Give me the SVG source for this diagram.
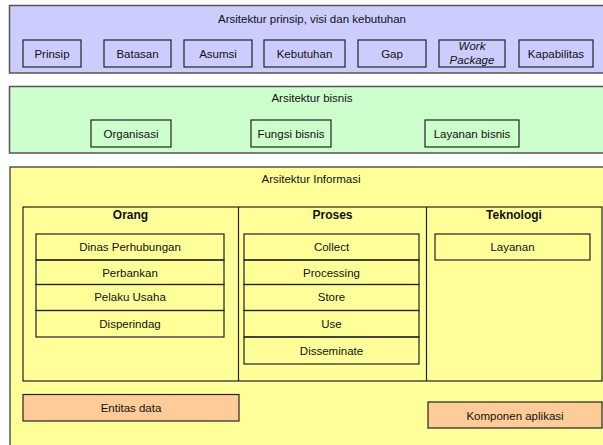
<svg xmlns="http://www.w3.org/2000/svg" width="603" height="445" viewBox="0 0 603 445">
<style>
  text { font-family: "Liberation Sans", Arial, sans-serif; font-size: 11.5px; fill: #111; text-anchor: middle; }
  .hdr { font-weight: bold; font-size: 12px; }
  .it { font-style: italic; }
  .panel { stroke: #555; stroke-width: 1.5; }
  .box { stroke: #222; stroke-width: 1.2; }
  .blue { fill: #CCCCFF; }
  .green { fill: #CCFFCC; }
  .yellow { fill: #FFFF99; }
  .orange { fill: #FFCC99; }
  .none { fill: none; }
</style>
<rect width="603" height="445" fill="#ffffff"/>

<g id="panel-prinsip">
  <rect class="panel blue" x="9.5" y="5.5" width="620" height="67.5"/>
  <text x="312" y="23">Arsitektur prinsip, visi dan kebutuhan</text>
</g>
<g id="prinsip"><rect class="box blue" x="23" y="40" width="58" height="27"/><text x="52" y="57.5">Prinsip</text></g>
<g id="batasan"><rect class="box blue" x="104" y="40" width="67" height="27"/><text x="137.5" y="57.5">Batasan</text></g>
<g id="asumsi"><rect class="box blue" x="184" y="40" width="68" height="27"/><text x="218" y="57.5">Asumsi</text></g>
<g id="kebutuhan"><rect class="box blue" x="264" y="40" width="81" height="27"/><text x="304.5" y="57.5">Kebutuhan</text></g>
<g id="gap"><rect class="box blue" x="358" y="40" width="68" height="27"/><text x="392" y="57.5">Gap</text></g>
<g id="work-package"><rect class="box blue" x="439" y="40" width="66" height="27"/><text class="it" x="472" y="50">Work</text><text class="it" x="472" y="64">Package</text></g>
<g id="kapabilitas"><rect class="box blue" x="519" y="40" width="74" height="27"/><text x="556" y="57.5">Kapabilitas</text></g>

<g id="panel-bisnis">
  <rect class="panel green" x="9.5" y="86.5" width="620" height="66.5"/>
  <text x="312" y="102">Arsitektur bisnis</text>
</g>
<g id="organisasi"><rect class="box green" x="91" y="120" width="80" height="27"/><text x="131" y="137.5">Organisasi</text></g>
<g id="fungsi-bisnis"><rect class="box green" x="251" y="120" width="80" height="27"/><text x="291" y="137.5">Fungsi bisnis</text></g>
<g id="layanan-bisnis"><rect class="box green" x="425" y="120" width="94" height="27"/><text x="472" y="137.5">Layanan bisnis</text></g>

<g id="panel-informasi">
  <rect class="panel yellow" x="10" y="167" width="620" height="300"/>
  <text x="311" y="183">Arsitektur Informasi</text>
</g>
<g id="table">
  <rect class="box none" x="23" y="207" width="579" height="174"/>
  <line class="box" x1="238.5" y1="207" x2="238.5" y2="381"/>
  <line class="box" x1="426.5" y1="207" x2="426.5" y2="381"/>
</g>
<g id="orang"><text class="hdr" x="130.5" y="218.5">Orang</text></g>
<g id="proses"><text class="hdr" x="332.5" y="218.5">Proses</text></g>
<g id="teknologi"><text class="hdr" x="514" y="218.5">Teknologi</text></g>

<g id="dinas-perhubungan"><rect class="box none" x="36" y="234" width="188" height="26"/><text x="130" y="251">Dinas Perhubungan</text></g>
<g id="perbankan"><rect class="box none" x="36" y="260" width="188" height="24.5"/><text x="130" y="276.5">Perbankan</text></g>
<g id="pelaku-usaha"><rect class="box none" x="36" y="284.5" width="188" height="26"/><text x="130" y="301">Pelaku Usaha</text></g>
<g id="disperindag"><rect class="box none" x="36" y="310.5" width="188" height="26.5"/><text x="130" y="328">Disperindag</text></g>

<g id="collect"><rect class="box none" x="244" y="234" width="175" height="26"/><text x="331.5" y="251">Collect</text></g>
<g id="processing"><rect class="box none" x="244" y="260" width="175" height="24.5"/><text x="331.5" y="276.5">Processing</text></g>
<g id="store"><rect class="box none" x="244" y="284.5" width="175" height="26"/><text x="331.5" y="301">Store</text></g>
<g id="use"><rect class="box none" x="244" y="310.5" width="175" height="26.5"/><text x="331.5" y="328">Use</text></g>
<g id="disseminate"><rect class="box none" x="244" y="337" width="175" height="27"/><text x="331.5" y="355">Disseminate</text></g>

<g id="layanan"><rect class="box none" x="435" y="234" width="155" height="26"/><text x="512.5" y="251">Layanan</text></g>

<g id="entitas-data"><rect class="box orange" x="23" y="394.5" width="216" height="26.5"/><text x="131" y="412">Entitas data</text></g>
<g id="komponen-aplikasi"><rect class="box orange" x="428" y="402" width="174" height="26"/><text x="515" y="419.5">Komponen aplikasi</text></g>

<g id="connectors"></g>
</svg>
